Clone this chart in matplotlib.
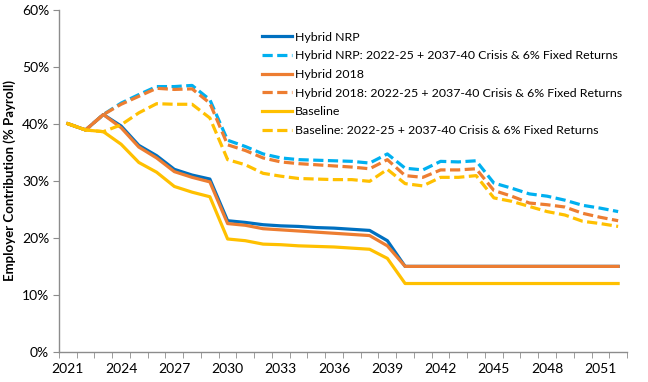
import matplotlib
matplotlib.use("Agg")
import matplotlib.pyplot as plt
import numpy as np

years = list(range(2021, 2053))
tick_years = [str(y) for y in range(2021, 2053, 3)]

hybrid_nrp = [40.0, 38.9, 41.6, 39.6, 36.2, 34.4, 32.0, 31.0, 30.3, 23.0,
              22.7, 22.3, 22.1, 22.0, 21.8, 21.7, 21.5, 21.3, 19.5, 15.0,
              15.0, 15.0, 15.0, 15.0, 15.0, 15.0, 15.0, 15.0, 15.0, 15.0, 15.0, 15.0]
hybrid_nrp_crisis = [40.0, 38.9, 41.6, 43.6, 45.1, 46.5, 46.5, 46.7, 44.2, 37.1,
                     36.0, 34.7, 34.0, 33.7, 33.6, 33.5, 33.4, 33.1, 34.7, 32.2,
                     31.9, 33.4, 33.3, 33.5, 29.6, 28.7, 27.7, 27.3, 26.6, 25.7, 25.2, 24.6]
hybrid_2018 = [40.0, 38.9, 41.6, 39.3, 35.9, 34.0, 31.6, 30.6, 29.8, 22.5,
               22.2, 21.6, 21.4, 21.2, 21.0, 20.8, 20.6, 20.4, 18.6, 15.0,
               15.0, 15.0, 15.0, 15.0, 15.0, 15.0, 15.0, 15.0, 15.0, 15.0, 15.0, 15.0]
hybrid_2018_crisis = [40.0, 38.9, 41.6, 43.4, 44.8, 46.2, 46.0, 46.1, 43.6, 36.3,
                      35.3, 34.0, 33.3, 33.0, 32.8, 32.6, 32.4, 32.1, 33.7, 30.9,
                      30.6, 31.9, 31.9, 32.1, 28.3, 27.3, 26.1, 25.8, 25.4, 24.3, 23.6, 23.0]
baseline = [40.0, 38.9, 38.6, 36.4, 33.2, 31.5, 29.0, 28.0, 27.2, 19.8,
            19.5, 18.9, 18.8, 18.6, 18.5, 18.4, 18.2, 18.0, 16.4, 12.0,
            12.0, 12.0, 12.0, 12.0, 12.0, 12.0, 12.0, 12.0, 12.0, 12.0, 12.0, 12.0]
baseline_crisis = [40.0, 38.9, 38.6, 39.8, 41.9, 43.5, 43.4, 43.4, 41.0, 33.7,
                   32.8, 31.3, 30.8, 30.4, 30.3, 30.2, 30.2, 29.9, 32.0, 29.5,
                   29.1, 30.6, 30.6, 30.9, 27.0, 26.4, 25.5, 24.6, 24.0, 22.9, 22.5, 22.0]

labels = ["Hybrid NRP",
          "Hybrid NRP: 2022-25 + 2037-40 Crisis & 6% Fixed Returns",
          "Hybrid 2018",
          "Hybrid 2018: 2022-25 + 2037-40 Crisis & 6% Fixed Returns",
          "Baseline",
          "Baseline: 2022-25 + 2037-40 Crisis & 6% Fixed Returns"]

plt.rcParams['font.family'] = ['Lato', 'DejaVu Sans']

fig = plt.figure(figsize=(6.48, 3.82), dpi=100)
ax = fig.add_axes([0.0910, 0.0785, 0.8766, 0.8966])

x = np.arange(len(years))
lw = 2.3
series = [
    (hybrid_nrp, '#0070C0', '-'),
    (hybrid_nrp_crisis, '#00B0F0', '--'),
    (hybrid_2018, '#ED7D31', '-'),
    (hybrid_2018_crisis, '#ED7D31', '--'),
    (baseline, '#FFC000', '-'),
    (baseline_crisis, '#FFC000', '--'),
]
for (vals, col, ls), lab in zip(series, labels):
    line, = ax.plot(x, vals, color=col, lw=lw, label=lab, solid_joinstyle='round')
    if ls == '--':
        line.set_dashes((3.2, 1.4))

ax.set_xlim(-0.5, len(years) - 0.5)
ax.set_ylim(0, 60)
ax.set_yticks(range(0, 61, 10))
ax.set_yticklabels([f"{v}%" for v in range(0, 61, 10)])
ax.set_xticks(np.arange(0, len(years), 3))
ax.set_xticklabels(tick_years)
ax.set_xticks(np.arange(-0.5, len(years), 1), minor=True)
ax.tick_params(axis='x', which='major', length=0, pad=8, labelsize=10)
ax.tick_params(axis='x', which='minor', length=4, color='#8C8C8C', direction='out')
ax.tick_params(axis='y', length=4, color='#8C8C8C', labelsize=10, pad=3)

for s in ['top', 'right']:
    ax.spines[s].set_visible(False)
for s in ['left', 'bottom']:
    ax.spines[s].set_color('#8C8C8C')
    ax.spines[s].set_linewidth(1.0)

ax.set_ylabel("Employer Contribution (% Payroll)", fontsize=9.5, fontweight='bold', labelpad=4)

leg = ax.legend(loc='upper left', bbox_to_anchor=(0.348, 0.95), frameon=False,
                fontsize=8.9, handlelength=2.5, handletextpad=0.2, labelspacing=0.62,
                borderaxespad=0)

fig.savefig("out.png", dpi=100)
